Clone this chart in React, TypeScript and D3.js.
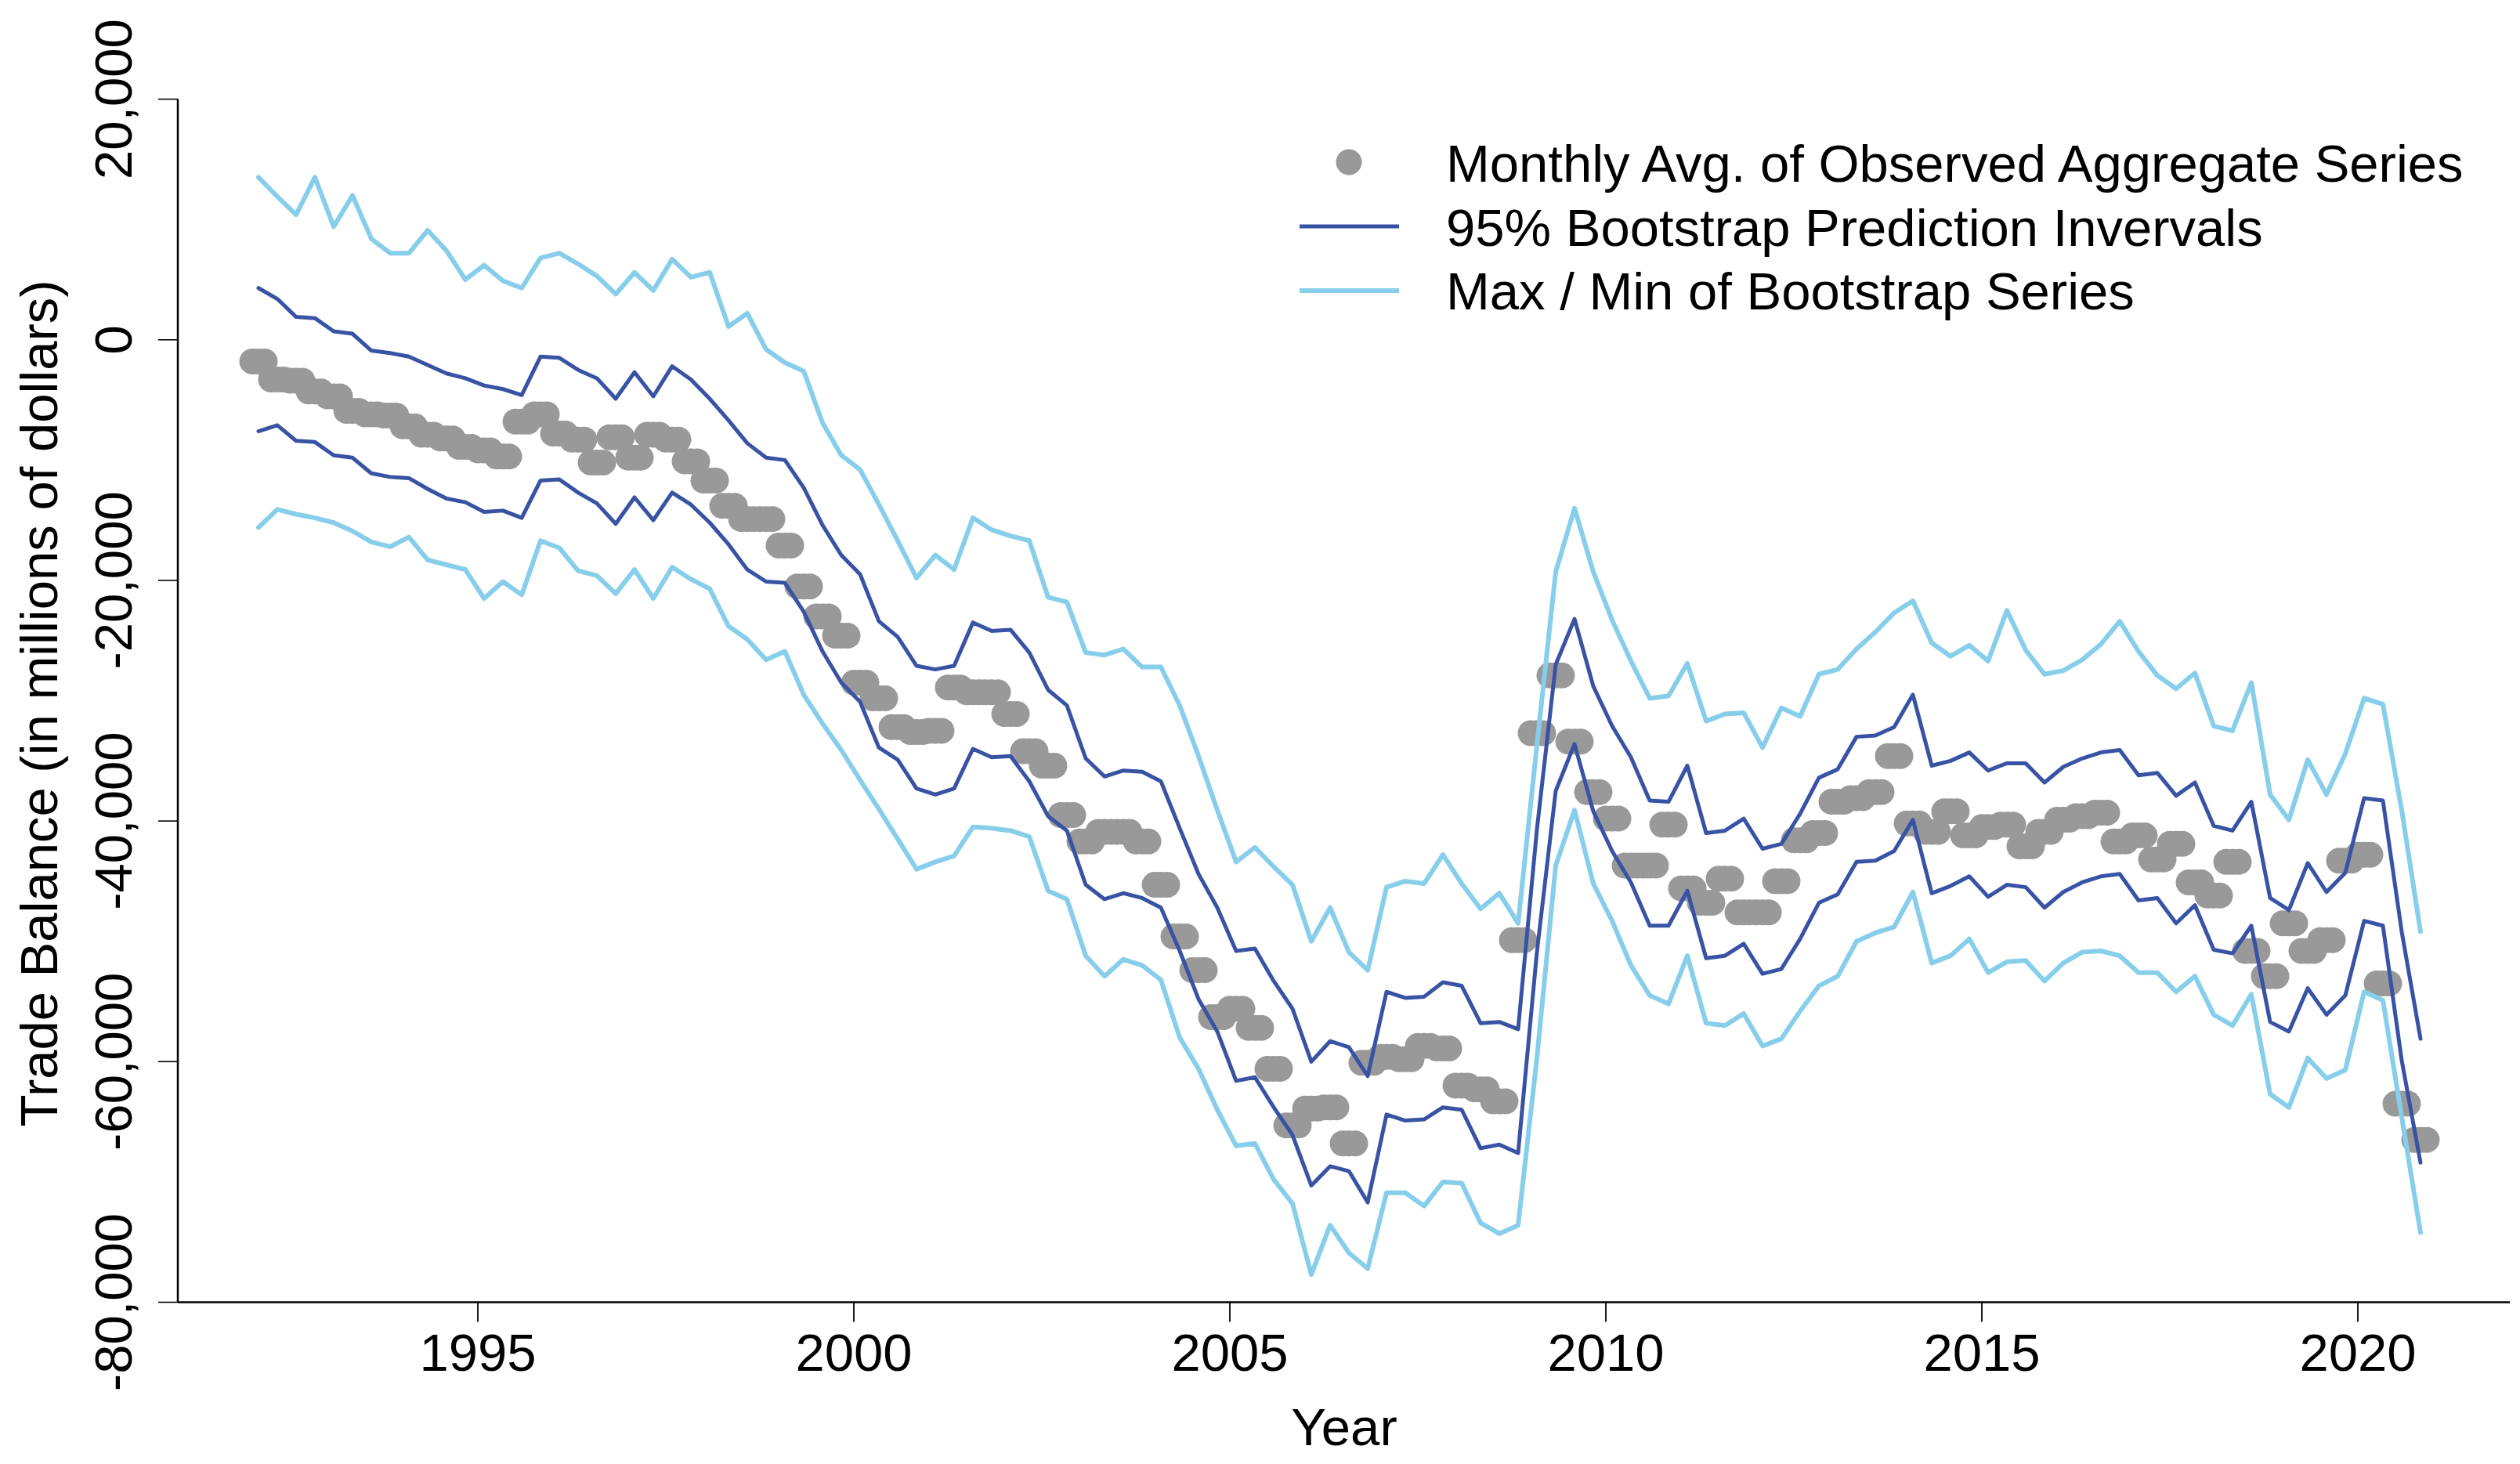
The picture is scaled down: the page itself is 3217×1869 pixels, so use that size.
import * as d3 from "d3";

// quarterly data, 1992Q1 .. 2020Q4 (values in millions of dollars)
const START_YEAR = 1992;

const observed = [
  -1800, -3300, -3400, -4300, -4700, -5900, -6200, -6300, -7200, -7900,
  -8200, -8900, -9200, -9700, -6800, -6200, -7800, -8300, -10200, -8100,
  -9800, -7900, -8300, -10100, -11700, -13800, -14900, -14900, -17100, -20500,
  -23000, -24600, -28500, -29800, -32200, -32600, -32500, -28900, -29300, -29300,
  -31100, -34200, -35400, -39500, -41700, -40900, -40900, -41700, -45300, -49600,
  -52400, -56300, -55600, -57200, -60600, -65300, -63900, -63800, -66800, -60100,
  -59600, -59800, -58700, -58900, -62000, -62300, -63300, -49900, -32700, -27900,
  -33400, -37600, -39800, -43700, -43700, -40300, -45600, -46800, -44800, -47600,
  -47600, -45000, -41600, -41000, -38400, -38100, -37600, -34600, -40200, -40900,
  -39200, -41200, -40500, -40300, -42100, -40900, -39900, -39600, -39300, -41700,
  -41200, -43200, -41900, -45100, -46200, -43400, -50800, -52900, -48500, -50800,
  -49900, -43300, -42800, -53500, -63500, -66500,
];

const upper95 = [
  4300, 3400, 1900, 1800, 700, 500, -900, -1100, -1400, -2100,
  -2800, -3200, -3800, -4100, -4600, -1400, -1500, -2500, -3200, -4900,
  -2700, -4700, -2200, -3300, -4900, -6700, -8600, -9800, -10000, -12300,
  -15400, -17900, -19500, -23400, -24700, -27100, -27400, -27100, -23500, -24200,
  -24100, -26000, -29100, -30400, -34800, -36300, -35800, -35900, -36700, -40600,
  -44400, -47200, -50800, -50600, -53300, -55600, -60000, -58300, -58800, -61200,
  -54200, -54700, -54600, -53400, -53700, -56800, -56700, -57300, -40700, -27000,
  -23200, -28800, -32100, -34700, -38300, -38400, -35400, -41000, -40800, -39800,
  -42300, -41900, -39400, -36400, -35700, -33000, -32900, -32200, -29500, -35400,
  -35000, -34300, -35800, -35200, -35200, -36800, -35500, -34800, -34300, -34100,
  -36200, -36000, -37900, -36800, -40400, -40800, -38400, -46400, -47400, -43500,
  -45900, -44300, -38100, -38300, -49200, -58100,
];

const lower95 = [
  -7600, -7100, -8400, -8500, -9600, -9800, -11100, -11400, -11500, -12400,
  -13200, -13500, -14300, -14200, -14800, -11700, -11600, -12700, -13600, -15300,
  -13100, -15000, -12700, -13700, -15200, -17000, -19100, -20100, -20200, -22600,
  -25900, -28500, -30100, -33900, -34900, -37300, -37800, -37300, -34000, -34700,
  -34600, -36700, -39600, -40800, -45300, -46500, -46000, -46400, -47200, -50800,
  -54800, -57500, -61600, -61300, -63800, -66100, -70300, -68700, -69100, -71700,
  -64400, -64900, -64800, -63800, -64000, -67200, -66900, -67600, -50900, -37500,
  -33600, -39200, -42500, -45100, -48700, -48700, -45800, -51400, -51200, -50200,
  -52700, -52300, -49800, -46800, -46100, -43400, -43300, -42500, -39900, -46000,
  -45400, -44600, -46300, -45300, -45500, -47200, -45900, -45100, -44600, -44400,
  -46600, -46400, -48500, -47000, -50700, -51000, -48700, -56700, -57500, -53900,
  -56100, -54500, -48300, -48700, -59900, -68400,
];

const bootMax = [
  13500, 11900, 10400, 13500, 9400, 12000, 8400, 7200, 7200, 9100,
  7400, 5000, 6200, 4900, 4300, 6800, 7200, 6300, 5300, 3800,
  5600, 4100, 6700, 5200, 5600, 1100, 2200, -800, -1900, -2600,
  -6900, -9600, -10800, -13700, -16700, -19800, -17900, -19100, -14800, -15800,
  -16300, -16700, -21400, -21800, -26000, -26200, -25700, -27200, -27200, -30400,
  -34600, -39100, -43400, -42200, -43800, -45300, -50000, -47200, -50900, -52400,
  -45500, -45000, -45200, -42800, -45200, -47300, -46000, -48500, -33700, -19300,
  -14000, -19300, -23300, -26700, -29800, -29600, -26900, -31700, -31100, -31000,
  -33900, -30600, -31300, -27800, -27400, -25700, -24300, -22700, -21700, -25200,
  -26300, -25400, -26700, -22500, -25800, -27800, -27500, -26600, -25300, -23400,
  -25900, -27900, -29000, -27700, -32100, -32500, -28500, -37800, -39900, -34900,
  -37800, -34400, -29800, -30300, -39100, -49200,
];

const bootMin = [
  -15600, -14100, -14500, -14800, -15200, -15900, -16800, -17200, -16400, -18300,
  -18700, -19100, -21500, -20100, -21200, -16700, -17300, -19200, -19600, -21100,
  -19100, -21500, -18900, -19900, -20700, -23800, -24900, -26600, -25900, -29500,
  -31900, -34100, -36600, -39000, -41500, -44000, -43400, -42900, -40500, -40600,
  -40800, -41300, -45800, -46500, -51200, -52900, -51500, -52000, -53200, -58000,
  -60600, -64000, -67000, -66800, -69800, -71800, -77700, -73600, -75900, -77200,
  -70900, -70900, -72000, -70000, -70100, -73400, -74300, -73600, -59700, -43700,
  -39100, -45200, -48300, -52000, -54500, -55200, -51200, -56800, -57000, -56000,
  -58700, -58100, -55800, -53700, -52900, -50000, -49300, -48800, -45900, -51800,
  -51200, -49800, -52600, -51700, -51600, -53300, -51800, -50900, -50800, -51200,
  -52600, -52600, -54200, -52900, -56100, -57000, -54400, -62700, -63800, -59700,
  -61400, -60700, -54200, -54900, -64600, -74200,
];

const yTicks = [20000, 0, -20000, -40000, -60000, -80000];
const xTicks = [1995, 2000, 2005, 2010, 2015, 2020];

const legendLabels = [
  "Monthly Avg. of Observed Aggregate Series",
  "95% Bootstrap Prediction Invervals",
  "Max / Min of Bootstrap Series",
];

const W = 3217;
const H = 1869;
const FONT = "'Liberation Sans', Arial, Helvetica, sans-serif";
const FS = 67;
const GRAY = "#999999";
const DARK = "#3953A4";
const LIGHT = "#87CEEB";
const DARK_W = 5;
const LIGHT_W = 6;

const fmt = d3.formatLocale({
  decimal: ".",
  thousands: ",",
  grouping: [3],
  currency: ["$", ""],
  minus: "-",
}).format(",");

export default function App() {
  const x = d3.scaleLinear().domain([1995, 2020]).range([610, 3010]);
  const y = d3.scaleLinear().domain([-80000, 20000]).range([1662.5, 126.6]);

  const plotLeft = 227;
  const plotRight = 3204;
  const plotBottom = y(-80000);

  // each quarterly value is shown for its three months
  const dots = observed.flatMap((v, q) =>
    [0, 1, 2].map((m) => ({ t: START_YEAR + (q * 3 + m) / 12, v }))
  );

  const line = d3
    .line<number>()
    .x((_, i) => x(START_YEAR + (i * 3 + 1) / 12))
    .y((v) => y(v));

  return (
    <svg
      width={W}
      height={H}
      viewBox={`0 0 ${W} ${H}`}
      style={{ position: "absolute", left: 0, top: 0, background: "#fff" }}
      fontFamily={FONT}
    >
      <rect width={W} height={H} fill="#fff" />

      {/* observed */}
      <g fill={GRAY}>
        {dots.map((d, i) => (
          <circle key={i} cx={x(d.t)} cy={y(d.v)} r={16.5} />
        ))}
      </g>

      {/* prediction intervals and bootstrap envelope */}
      <g fill="none" strokeLinejoin="round" strokeLinecap="round">
        <path d={line(upper95)!} stroke={DARK} strokeWidth={DARK_W} />
        <path d={line(lower95)!} stroke={DARK} strokeWidth={DARK_W} />
        <path d={line(bootMax)!} stroke={LIGHT} strokeWidth={LIGHT_W} />
        <path d={line(bootMin)!} stroke={LIGHT} strokeWidth={LIGHT_W} />
      </g>

      {/* axes */}
      <line x1={plotLeft} x2={plotLeft} y1={y(20000)} y2={plotBottom} stroke="#000" strokeWidth={2.5} />
      <line x1={plotLeft} x2={plotRight} y1={plotBottom} y2={plotBottom} stroke="#000" strokeWidth={2.3} />

      {yTicks.map((t) => (
        <g key={t}>
          <line x1={202} x2={plotLeft} y1={y(t)} y2={y(t)} stroke="#000" strokeWidth={1.6} />
          <text
            transform={`translate(168, ${y(t)}) rotate(-90)`}
            textAnchor="middle"
            fontSize={FS}
            fill="#000"
          >
            {fmt(t)}
          </text>
        </g>
      ))}

      {xTicks.map((t) => (
        <g key={t}>
          <line x1={x(t)} x2={x(t)} y1={plotBottom} y2={plotBottom + 25} stroke="#000" strokeWidth={1.8} />
          <text x={x(t)} y={1750} textAnchor="middle" fontSize={FS} fill="#000">
            {t}
          </text>
        </g>
      ))}

      <text x={1716} y={1845} textAnchor="middle" fontSize={FS} fill="#000">
        Year
      </text>
      <text
        transform="translate(73, 898) rotate(-90)"
        textAnchor="middle"
        fontSize={FS}
        fill="#000"
      >
        Trade Balance (in millions of dollars)
      </text>

      {/* legend */}
      <g fontSize={FS} fill="#000">
        <circle cx={1722} cy={207} r={16.5} fill={GRAY} />
        <line x1={1659} x2={1786} y1={289} y2={289} stroke={DARK} strokeWidth={DARK_W} />
        <line x1={1659} x2={1786} y1={371} y2={371} stroke={LIGHT} strokeWidth={LIGHT_W} />
        {legendLabels.map((s, i) => (
          <text key={s} x={1846} y={232 + i * 81.5}>
            {s}
          </text>
        ))}
      </g>
    </svg>
  );
}
